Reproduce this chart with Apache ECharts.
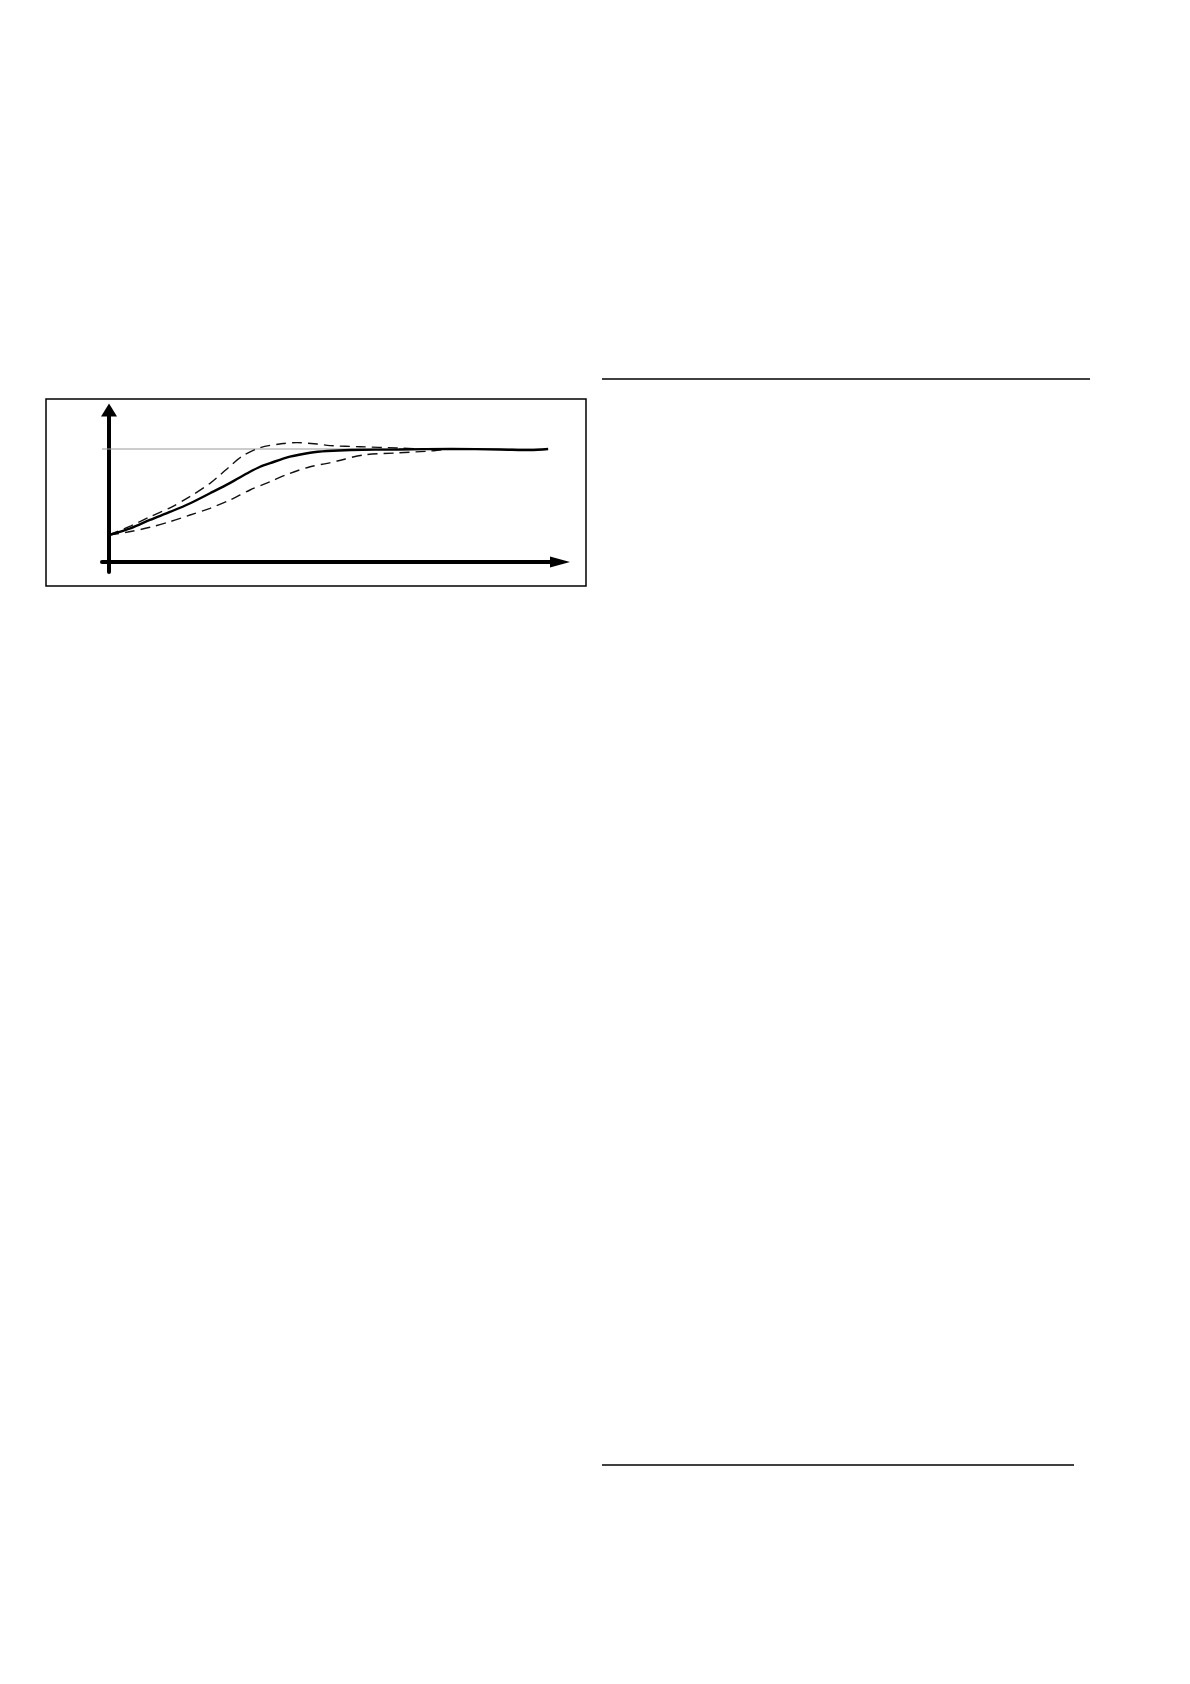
<!DOCTYPE html>
<html>
<head>
<meta charset="utf-8">
<title>step response</title>
<script src="https://cdn.jsdelivr.net/npm/echarts@6/dist/echarts.min.js"></script>
<style>
  html, body { margin: 0; padding: 0; background: #fff; }
  #main { width: 1190px; height: 1684px; }
</style>
</head>
<body>
<div id="main"></div>
<script>
// 数据：时间轴 t（0-100），幅值 y（1 = 稳态值）
var solidT = [0, 5, 9.3, 14, 18.5, 23, 27.6, 32, 34.4, 36.7, 41.2, 45.8, 49.7, 55, 66, 78, 89, 96, 100];
var solidY = [0.239, 0.30, 0.372, 0.445, 0.52, 0.608, 0.70, 0.796, 0.843, 0.875, 0.932, 0.967, 0.982, 0.991, 0.996, 1.0, 0.996, 0.991, 1.0];

var upperT = [0, 5, 9.3, 13.9, 18.4, 23, 25.3, 27.6, 30.5, 34.4, 39.6, 42.8, 47.4, 50.3, 57.2, 65.6, 70.8, 76];
var upperY = [0.239, 0.32, 0.40, 0.48, 0.578, 0.696, 0.77, 0.85, 0.94, 1.012, 1.048, 1.056, 1.044, 1.03, 1.02, 1.009, 1.0, 0.998];

var lowerT = [0, 4.3, 9.3, 13.9, 18.45, 23, 27.6, 32.1, 36.7, 41.2, 45.8, 49.7, 52, 57.9, 65.6, 73.1, 76.5, 80];
var lowerY = [0.239, 0.265, 0.307, 0.357, 0.416, 0.475, 0.549, 0.637, 0.711, 0.785, 0.843, 0.873, 0.894, 0.947, 0.965, 0.982, 0.996, 1.0];

var refT = [-1.6, 100];
var refY = [1, 1];

function pairs(xs, ys) {
  return xs.map(function(x, i) { return [x, ys[i]]; });
}

var myChart = echarts.init(document.getElementById("main"), null, { renderer: "canvas" });

var option = {
  animation: false,
  backgroundColor: "#fff",
  grid: {
    left: 102,
    top: 410,
    width: 458,
    height: 162
  },
  xAxis: {
    type: "value",
    min: -1.6,
    max: 102.7,
    axisLine: {
      onZero: true,
      symbol: ["none", "triangle"],
      symbolSize: [11, 20],
      lineStyle: { color: "#000", width: 4 }
    },
    axisTick: { show: false },
    axisLabel: { show: false },
    splitLine: { show: false }
  },
  yAxis: {
    type: "value",
    min: -0.0885,
    max: 1.345,
    axisLine: {
      show: true,
      onZero: true,
      symbol: ["none", "triangle"],
      symbolSize: [16, 13],
      lineStyle: { color: "#000", width: 4 }
    },
    axisTick: { show: false },
    axisLabel: { show: false },
    splitLine: { show: false }
  },
  series: [
    {
      name: "稳态值",
      type: "line",
      data: pairs(refT, refY),
      symbol: "none",
      lineStyle: { color: "#9a9a9a", width: 1.2 },
      z: 1
    },
    {
      name: "上限",
      type: "line",
      data: pairs(upperT, upperY),
      smooth: 0.3,
      symbol: "none",
      lineStyle: { color: "#111", width: 1.4, type: [10, 6] },
      z: 2
    },
    {
      name: "下限",
      type: "line",
      data: pairs(lowerT, lowerY),
      smooth: 0.3,
      symbol: "none",
      lineStyle: { color: "#111", width: 1.4, type: [10, 6] },
      z: 2
    },
    {
      name: "响应",
      type: "line",
      data: pairs(solidT, solidY),
      smooth: 0.3,
      symbol: "none",
      lineStyle: { color: "#000", width: 2.4 },
      z: 3
    }
  ],
  graphic: [
    // 图框
    {
      type: "rect",
      shape: { x: 46, y: 399, width: 540, height: 187 },
      style: { fill: "none", stroke: "#000", lineWidth: 1.5 }
    },
    // 右栏分隔线
    {
      type: "line",
      shape: { x1: 602, y1: 379, x2: 1090, y2: 379 },
      style: { stroke: "#000", lineWidth: 1.5 }
    },
    {
      type: "line",
      shape: { x1: 602, y1: 1465, x2: 1074, y2: 1465 },
      style: { stroke: "#000", lineWidth: 1.5 }
    }
  ]
};

myChart.setOption(option);
window.addEventListener("resize", function() {
  myChart.resize();
});
</script>
</body>
</html>
